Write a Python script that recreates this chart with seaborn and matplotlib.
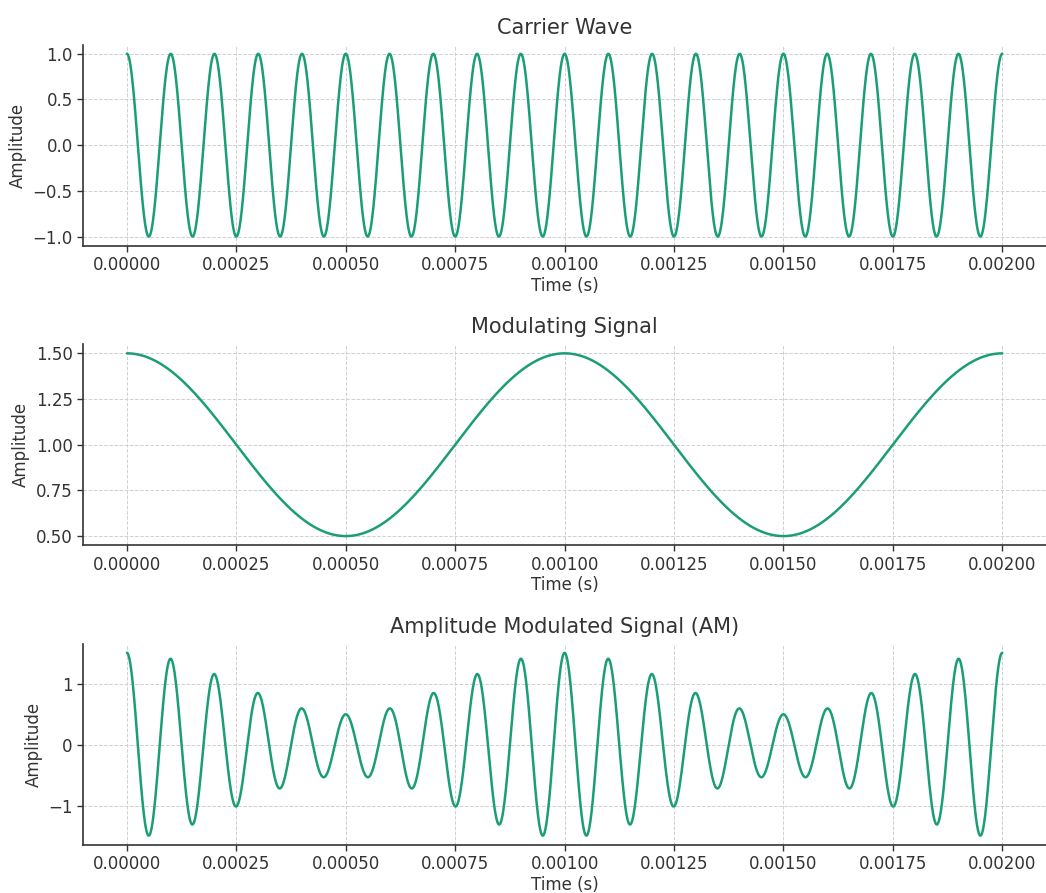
import numpy as np
import pandas as pd
import matplotlib
matplotlib.use("Agg")
import matplotlib.pyplot as plt
import seaborn as sns

# Signal parameters
duration = 0.002          # seconds shown
carrier_freq = 10000.0    # Hz (20 cycles in 2 ms)
carrier_amp = 1.0
mod_freq = 1000.0         # Hz (2 cycles in 2 ms)
mod_offset = 1.0
mod_depth = 0.5
n_samples = 4000

titles = ["Carrier Wave", "Modulating Signal", "Amplitude Modulated Signal (AM)"]
xlabel = "Time (s)"
ylabel = "Amplitude"
xticks = [0.0, 0.00025, 0.0005, 0.00075, 0.001, 0.00125, 0.0015, 0.00175, 0.002]

t = np.linspace(0, duration, n_samples)
carrier = carrier_amp * np.cos(2 * np.pi * carrier_freq * t)
modulating = mod_offset + mod_depth * np.cos(2 * np.pi * mod_freq * t)
am = modulating * carrier

df = pd.DataFrame({"t": t, "carrier": carrier, "modulating": modulating, "am": am})

sns.set_theme(style="whitegrid")
plt.rcParams.update({
    "font.family": ["DejaVu Sans"],
    "axes.edgecolor": "#333333",
    "axes.linewidth": 1.2,
    "text.color": "#333333",
    "axes.labelcolor": "#333333",
    "xtick.color": "#333333",
    "ytick.color": "#333333",
})

color = "#1b9e77"
fig, axes = plt.subplots(3, 1, figsize=(10.46, 8.93), dpi=100)
cols = ["carrier", "modulating", "am"]
for ax, col, title in zip(axes, cols, titles):
    sns.lineplot(data=df, x="t", y=col, ax=ax, color=color, linewidth=1.8)
    ax.set_title(title, fontsize=15, color="#333333", pad=8)
    ax.set_xlabel(xlabel, fontsize=12, labelpad=2)
    ax.set_ylabel(ylabel, fontsize=12)
    ax.set_xticks(xticks)
    ax.set_xticklabels([f"{v:.5f}" for v in xticks])
    ax.tick_params(axis="both", labelsize=12, length=4, width=1, colors="#333333", bottom=True, left=True)
    ax.grid(True, linestyle="--", color="#d0d0d0", linewidth=0.7)
    for s in ["top", "right"]:
        ax.spines[s].set_visible(False)

axes[0].set_yticks([-1.0, -0.5, 0.0, 0.5, 1.0])
axes[1].set_yticks([0.5, 0.75, 1.0, 1.25, 1.5])
axes[1].set_yticklabels(["0.50", "0.75", "1.00", "1.25", "1.50"])
axes[2].set_yticks([-1, 0, 1])

fig.subplots_adjust(left=0.0795, right=1.0, top=0.95, bottom=0.054, hspace=0.49)
fig.savefig("out.png", dpi=100)
